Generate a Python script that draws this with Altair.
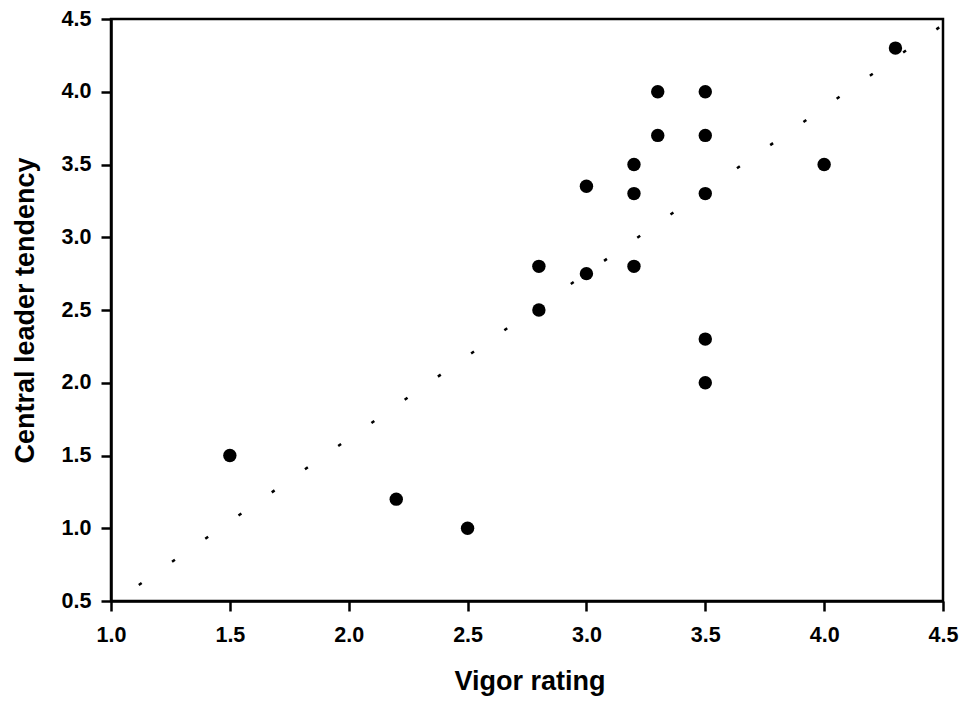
import altair as alt
import pandas as pd

# Data
vigor = [1.5, 2.2, 2.5, 2.8, 2.8, 3.0, 3.0, 3.2, 3.2, 3.2, 3.3, 3.3,
         3.5, 3.5, 3.5, 3.5, 3.5, 4.0, 4.3]
leader = [1.5, 1.2, 1.0, 2.8, 2.5, 3.35, 2.75, 3.5, 3.3, 2.8, 4.0, 3.7,
          4.0, 3.7, 3.3, 2.3, 2.0, 3.5, 4.3]
x_ticks = [1.0, 1.5, 2.0, 2.5, 3.0, 3.5, 4.0, 4.5]
y_ticks = [0.5, 1.0, 1.5, 2.0, 2.5, 3.0, 3.5, 4.0, 4.5]
fit_extent = [1.0, 4.5]

df = pd.DataFrame({"vigor": vigor, "leader": leader})

FONT = "Liberation Sans"
LABEL_SIZE = 21.5
TITLE_SIZE = 27

common_axis = dict(
    format=".1f",
    grid=False,
    tickSize=10,
    tickWidth=2.5,
    tickColor="black",
    domainColor="black",
    domainWidth=2.5,
    labelFont=FONT,
    labelFontSize=LABEL_SIZE,
    labelFontWeight="bold",
    labelColor="black",
    labelFlush=False,
    labelOverlap=False,
    labelBound=False,
    titleFont=FONT,
    titleFontSize=TITLE_SIZE,
    titleFontWeight="bold",
    titleColor="black",
    titleBaseline="middle",
    titleAlign="center",
)

x_enc = alt.X(
    "vigor:Q",
    scale=alt.Scale(domain=[1.0, 4.5], nice=False, zero=False),
    axis=alt.Axis(
        title="Vigor rating",
        values=x_ticks,
        labelPadding=13,
        titleX=418.5,
        titleY=80,
        **common_axis,
    ),
)
y_enc = alt.Y(
    "leader:Q",
    scale=alt.Scale(domain=[0.5, 4.5], nice=False, zero=False),
    axis=alt.Axis(
        title="Central leader tendency",
        values=y_ticks,
        labelPadding=10,
        titleX=-86,
        titleY=291,
        titleAngle=270,
        **common_axis,
    ),
)

points = alt.Chart(df).mark_circle(size=180, color="black", opacity=1).encode(
    x=x_enc, y=y_enc
)

fit = (
    alt.Chart(df)
    .transform_regression("vigor", "leader", extent=fit_extent)
    .mark_line(color="black", strokeWidth=2.5, strokeDash=[3.5, 37.0],
               strokeDashOffset=6.6, strokeCap="butt", clip=True)
    .encode(x=x_enc, y=y_enc)
)

chart = (
    alt.layer(fit, points)
    .properties(
        width=832,
        height=582,
        autosize=alt.AutoSizeParams(type="none"),
        padding={"left": 103, "top": 11, "right": 16, "bottom": 100},
        background="white",
    )
    .configure_view(stroke="black", strokeWidth=2.5, strokeOpacity=1)
)

chart.save("out.html", embed_options={"renderer": "svg", "actions": False})
